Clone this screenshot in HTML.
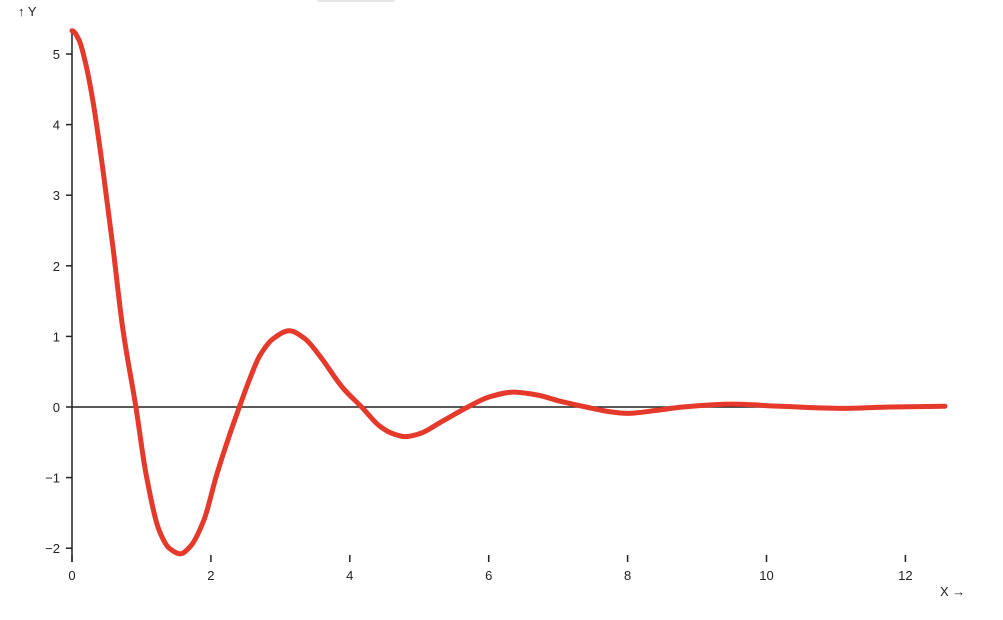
<!DOCTYPE html>
<html><head><meta charset="utf-8"><style>
body{margin:0;background:#fff}
svg{font-family:"Liberation Sans","DejaVu Sans",sans-serif;font-size:13px}
</style></head><body>
<svg width="1003" height="615">
<rect x="317" y="0" width="78" height="2" fill="#e6e6e6"/>
<g id="axes"></g>
<path id="curve" fill="none" stroke="#e4392b" stroke-width="5" stroke-linecap="round" stroke-linejoin="round"/>
<text x="18" y="16" fill="#222">↑ Y</text>
<text x="940" y="596" fill="#222">X →</text>
</svg>
<script>
const xs=[0,0.1,0.2,0.3,0.44,0.59,0.73,0.92,1.07,1.26,1.4,1.56,1.7,1.9,2.08,2.25,2.41,2.56,2.7,2.9,3.13,3.35,3.57,3.9,4.17,4.43,4.6,4.8,5.0,5.3,5.7,6.0,6.35,6.7,7.0,7.4,7.7,8.0,8.4,8.8,9.5,10.2,11.1,11.8,12.57];
const ys=[5.33,5.2,4.85,4.34,3.4,2.26,1.12,0,-0.97,-1.76,-2.0,-2.08,-1.98,-1.6,-0.97,-0.45,0,0.4,0.72,0.97,1.08,0.97,0.72,0.27,0,-0.27,-0.37,-0.42,-0.38,-0.22,0,0.14,0.21,0.17,0.09,0,-0.06,-0.09,-0.05,0,0.04,0.01,-0.02,0,0.01];
const xTicks=[0,2,4,6,8,10,12];
const yTicks=[-2,-1,0,1,2,3,4,5];
const X=v=>72+v*69.45;
const Y=v=>407-v*70.6;
const ns="http://www.w3.org/2000/svg";
const g=document.getElementById('axes');
function mk(t,a){const e=document.createElementNS(ns,t);for(const k in a)e.setAttribute(k,a[k]);g.appendChild(e);return e;}
let e=mk('line',{x1:72,x2:72,y1:30,y2:562,stroke:'#222','stroke-width':1.5});


e=mk('line',{x1:72,x2:X(12.57),y1:Y(0),y2:Y(0),stroke:'#222','stroke-width':1.5});


yTicks.forEach(t=>{
 let l=mk('line',{x1:66,x2:72,y1:Y(t),y2:Y(t),stroke:'#222','stroke-width':1.5});
 
 
 let tx=mk('text',{x:60,y:Y(t)+5,'text-anchor':'end',fill:'#222'});
 tx.textContent=t<0?'\u2212'+(-t):t;
 
 
});
xTicks.forEach(t=>{
 let l=mk('line',{x1:X(t),x2:X(t),y1:555,y2:562,stroke:'#222','stroke-width':1.5});
 
 
 let tx=mk('text',{x:X(t),y:580,'text-anchor':'middle',fill:'#222'});
 tx.textContent=t;
 
 
});
const px=xs.map(X), py=ys.map(Y), n=px.length;
const s=[],m=[];
for(let i=0;i<n-1;i++) s.push((py[i+1]-py[i])/(px[i+1]-px[i]));
m[0]=0;
m[n-1]=s[n-2];
for(let i=1;i<n-1;i++){
 if(s[i-1]*s[i]<=0) m[i]=0;
 else{const h0=px[i]-px[i-1],h1=px[i+1]-px[i];
  m[i]=3*(h0+h1)/((2*h1+h0)/s[i-1]+(h1+2*h0)/s[i]);}
}
let d='M'+px[0]+','+py[0];
for(let i=0;i<n-1;i++){
 const h=(px[i+1]-px[i])/3;
 d+=`C${px[i]+h},${py[i]+m[i]*h} ${px[i+1]-h},${py[i+1]-m[i+1]*h} ${px[i+1]},${py[i+1]}`;
}
document.getElementById('curve').setAttribute('d',d);
</script>
</body></html>
